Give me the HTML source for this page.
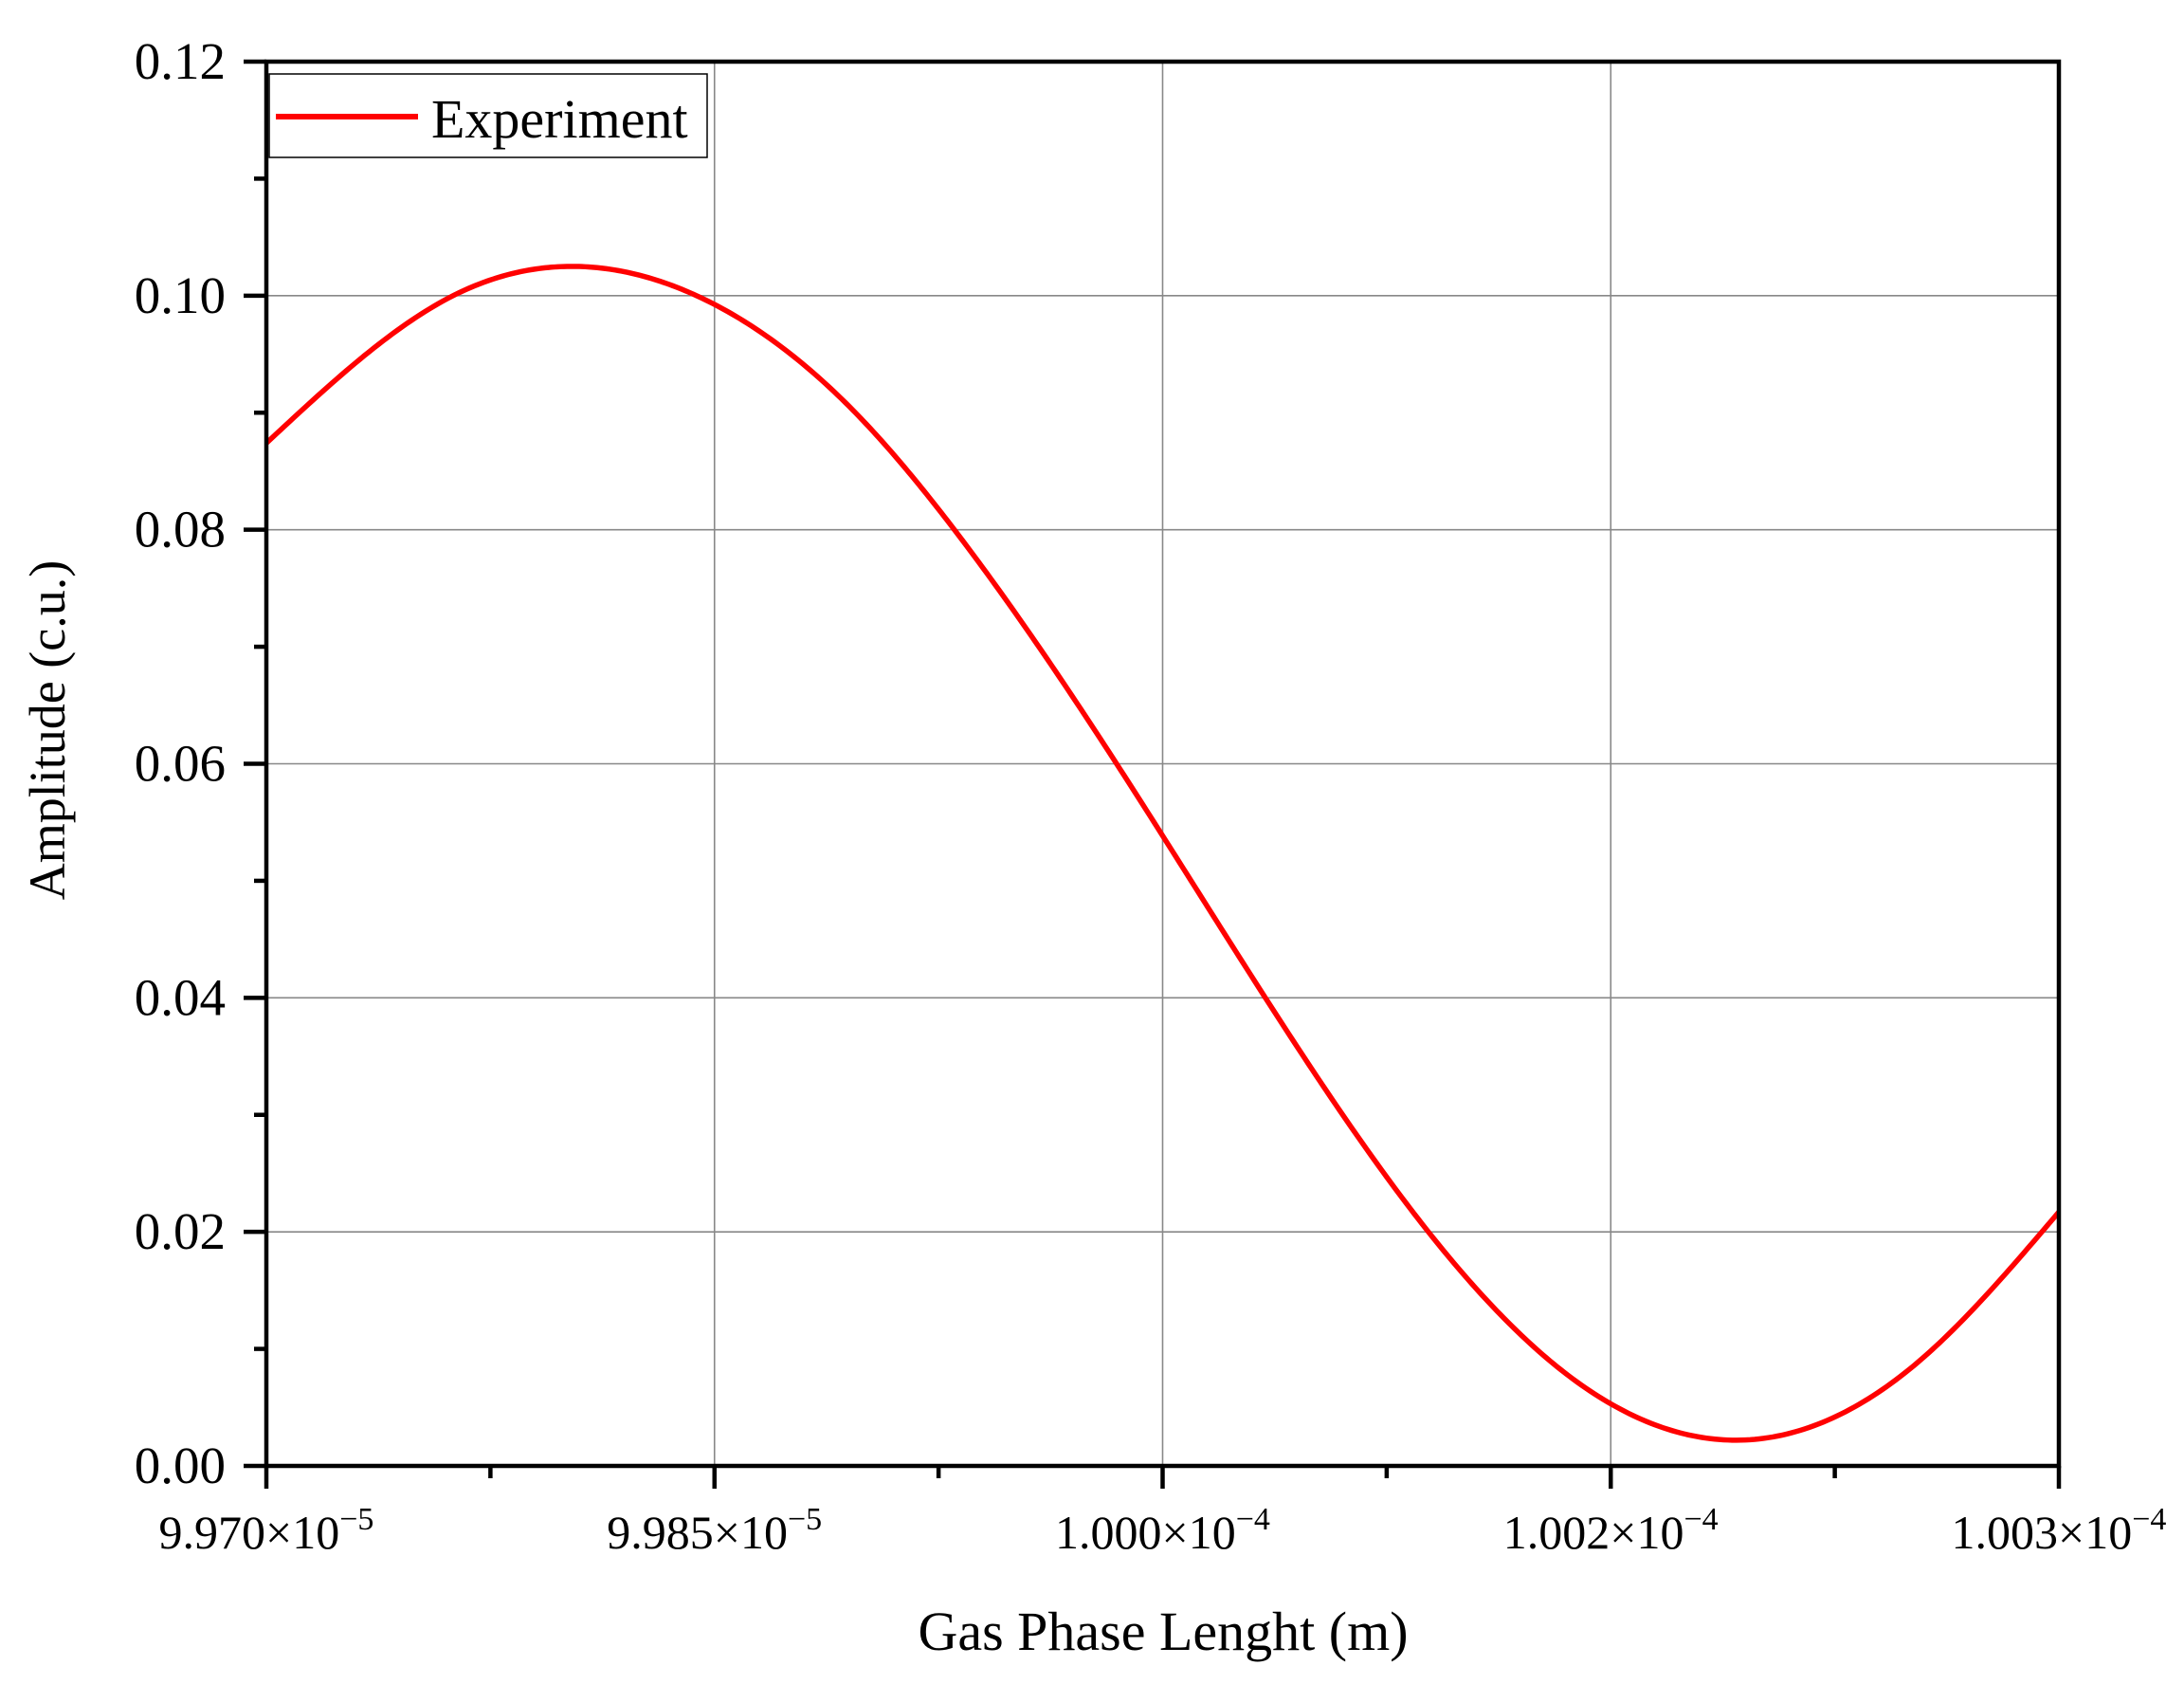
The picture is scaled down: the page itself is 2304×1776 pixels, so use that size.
<!DOCTYPE html>
<html><head><meta charset="utf-8"><style>
html,body{margin:0;padding:0;background:#fff}
svg{display:block}
text{font-family:"Liberation Serif",serif;fill:#000}
</style></head><body>
<svg id="chart" width="2304" height="1776" viewBox="0 0 2304 1776" xmlns="http://www.w3.org/2000/svg">
<g id="grid"></g>
<g id="series"></g>
<g id="axes"></g>
<g id="legend">
<rect x="284" y="78" width="462" height="88" fill="#fff" stroke="#000" stroke-width="1.5"/>
<line x1="291" y1="123" x2="441" y2="123" stroke="#ff0000" stroke-width="6"/>
<text x="455" y="145" font-size="58">Experiment</text>
</g>
<text x="1227" y="1740" font-size="58" text-anchor="middle">Gas Phase Lenght (m)</text>
<text transform="translate(68,770) rotate(-90)" font-size="54" text-anchor="middle">Amplitude (c.u.)</text>
</svg>
<script>
const xValues = [9.9700,9.97625,9.98037,9.98440,9.98964,9.99303,9.99846,10.00344,10.00868,10.01344,10.01921,10.0253,10.0300];
const yValues = [0.0874,0.1000,0.1025,0.1000,0.0902,0.0800,0.0600,0.0400,0.0207,0.0080,0.0022,0.0089,0.0217];
const xTicks = [9.970,9.985,10.000,10.015,10.030];
const xTickLabels = [["9.970","-5"],["9.985","-5"],["1.000","-4"],["1.002","-4"],["1.003","-4"]];
const yTicks = [0,0.02,0.04,0.06,0.08,0.10,0.12];
const yTickLabels = ["0.00","0.02","0.04","0.06","0.08","0.10","0.12"];

const L=281,R=2172,T=65,B=1546;
const xMin=9.970,xMax=10.030,yMin=0,yMax=0.12;
const sx=v=>L+(v-xMin)/(xMax-xMin)*(R-L);
const sy=v=>B-(v-yMin)/(yMax-yMin)*(B-T);
const NS="http://www.w3.org/2000/svg";
function mk(tag,attrs,parent){const e=document.createElementNS(NS,tag);for(const k in attrs)e.setAttribute(k,attrs[k]);parent.appendChild(e);return e;}
const grid=document.getElementById('grid'),axes=document.getElementById('axes'),series=document.getElementById('series');

xTicks.forEach((t,i)=>{
  const x=sx(t);
  if(i>0&&i<xTicks.length-1){const g=mk('line',{x1:x,y1:T,x2:x,y2:B,stroke:'#888','stroke-width':1.6},grid);
  
  }
  const tk=mk('line',{x1:x,y1:B,x2:x,y2:B+24,stroke:'#000','stroke-width':4.5},axes);
  
  
  if(i<xTicks.length-1){const mx=sx((t+xTicks[i+1])/2);
    const m=mk('line',{x1:mx,y1:B,x2:mx,y2:B+13,stroke:'#000','stroke-width':4.5},axes);
    
    }
  const tx=mk('text',{x:x,y:1633,'font-size':50,'text-anchor':'middle'},axes);
  
  
  tx.textContent=xTickLabels[i][0]+"×10";
  const sup=mk('tspan',{dy:-20,'font-size':34},tx);
  sup.textContent="−"+xTickLabels[i][1].slice(1);
});
yTicks.forEach((t,i)=>{
  const y=sy(t);
  if(i>0&&i<yTicks.length-1){const g=mk('line',{x1:L,y1:y,x2:R,y2:y,stroke:'#888','stroke-width':1.6},grid);
  
  }
  const tk=mk('line',{x1:L-24,y1:y,x2:L,y2:y,stroke:'#000','stroke-width':4.5},axes);
  
  
  if(i<yTicks.length-1){const my=sy((t+yTicks[i+1])/2);
    const m=mk('line',{x1:L-13,y1:my,x2:L,y2:my,stroke:'#000','stroke-width':4.5},axes);
    
    }
  const tx=mk('text',{x:238,y:y+18,'font-size':55,'text-anchor':'end'},axes);
  
  
  tx.textContent=yTickLabels[i];
});
const frame=mk('rect',{x:L,y:T,width:R-L,height:B-T,fill:'none',stroke:'#000','stroke-width':4.5},axes);



// natural cubic spline through data
const n=xValues.length, xs=xValues, ys=yValues;
const h=[],al=[0],l=[1],mu=[0],z=[0],c=new Array(n).fill(0),b=[],dd=[];
for(let i=0;i<n-1;i++)h[i]=xs[i+1]-xs[i];
for(let i=1;i<n-1;i++)al[i]=3/h[i]*(ys[i+1]-ys[i])-3/h[i-1]*(ys[i]-ys[i-1]);
for(let i=1;i<n-1;i++){l[i]=2*(xs[i+1]-xs[i-1])-h[i-1]*mu[i-1];mu[i]=h[i]/l[i];z[i]=(al[i]-h[i-1]*z[i-1])/l[i];}
for(let j=n-2;j>=0;j--){c[j]=(j>0?z[j]-mu[j]*c[j+1]:0);b[j]=(ys[j+1]-ys[j])/h[j]-h[j]*(c[j+1]+2*c[j])/3;dd[j]=(c[j+1]-c[j])/(3*h[j]);}
let d="";
for(let j=0;j<n-1;j++){
  const steps=40;
  for(let s=0;s<=steps;s++){
    if(j>0&&s===0)continue;
    const t=h[j]*s/steps;
    const v=ys[j]+b[j]*t+c[j]*t*t+dd[j]*t*t*t;
    d+=(d?"L":"M")+sx(xs[j]+t).toFixed(2)+","+sy(v).toFixed(2);
  }
}
const line=mk('path',{d:d,fill:'none',stroke:'#ff0000','stroke-width':5.5,'stroke-linejoin':'round'},series);


</script>
</body></html>
